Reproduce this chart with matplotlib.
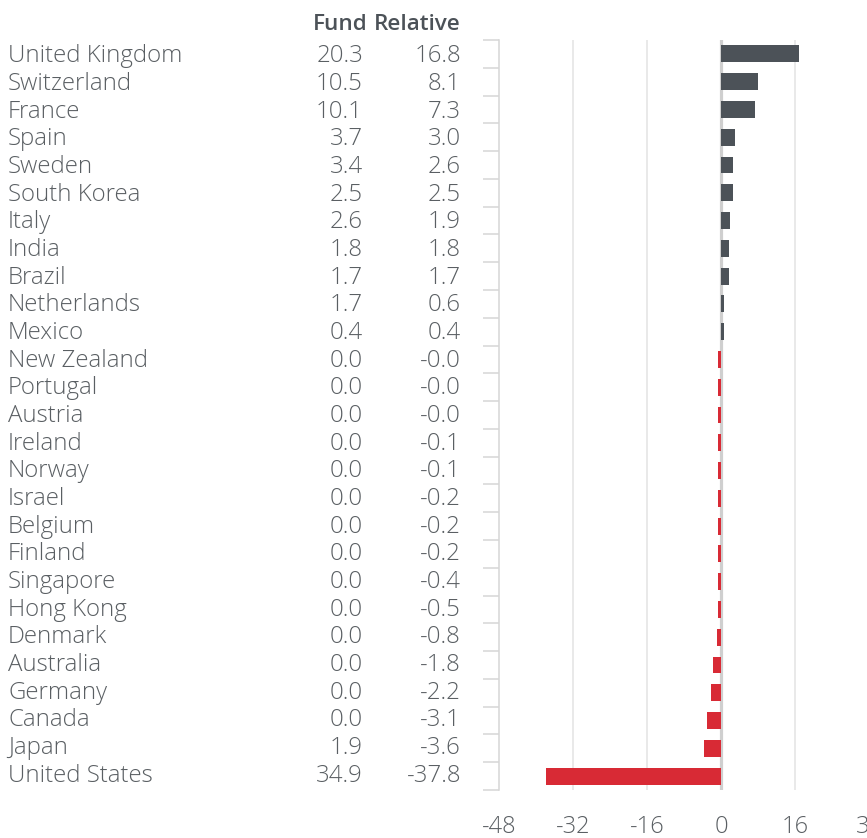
import matplotlib
matplotlib.use("Agg")
import matplotlib.pyplot as plt
import matplotlib.transforms as mtransforms
import numpy as np

countries = ["United Kingdom", "Switzerland", "France", "Spain", "Sweden", "South Korea",
             "Italy", "India", "Brazil", "Netherlands", "Mexico", "New Zealand", "Portugal",
             "Austria", "Ireland", "Norway", "Israel", "Belgium", "Finland", "Singapore",
             "Hong Kong", "Denmark", "Australia", "Germany", "Canada", "Japan", "United States"]
fund = [20.3, 10.5, 10.1, 3.7, 3.4, 2.5, 2.6, 1.8, 1.7, 1.7, 0.4, 0.0, 0.0,
        0.0, 0.0, 0.0, 0.0, 0.0, 0.0, 0.0, 0.0, 0.0, 0.0, 0.0, 0.0, 1.9, 34.9]
relative = [16.8, 8.1, 7.3, 3.0, 2.6, 2.5, 1.9, 1.8, 1.7, 0.6, 0.4, -0.02, -0.03,
            -0.04, -0.1, -0.1, -0.2, -0.2, -0.2, -0.4, -0.5, -0.8, -1.8, -2.2, -3.1, -3.6, -37.8]
xticks = [-48, -32, -16, 0, 16, 32]

FONT = "Open Sans"
TXT = "#5a5f63"
DARK = "#4c5258"
RED = "#d82a35"

fig = plt.figure(figsize=(8.67, 8.38), dpi=100)
ax = fig.add_axes([0.5755, 0.0573, 0.4268, 0.895])

n = len(countries)
y = np.arange(n)
rel = np.array(relative)
disp = np.sign(rel) * np.maximum(np.abs(rel), 0.6)
colors = [DARK if v > 0 else RED for v in rel]
ax.barh(y, disp, height=0.61, color=colors, zorder=3)

ax.set_xlim(-48, 32)
ax.set_ylim(n - 0.5, -0.5)

for xv in xticks[1:]:
    if xv == 0:
        ax.axvline(0, color="#cfcfcf", lw=2.3, zorder=2)
    else:
        ax.axvline(xv, color="#e3e3e3", lw=1.1, zorder=1)

for s in ["top", "right", "bottom"]:
    ax.spines[s].set_visible(False)
ax.spines["left"].set_color("#d6d6d6")
ax.spines["left"].set_linewidth(1.1)

ax.set_yticks(y)
ax.set_yticklabels([])
ax.tick_params(axis="y", which="major", length=0)
ax.set_yticks(np.arange(-0.5, n, 1.0), minor=True)
ax.tick_params(axis="y", which="minor", length=11.5, width=1.1, color="#d6d6d6")

ax.set_xticks(xticks)
ax.set_xticklabels([str(v) for v in xticks], fontfamily=FONT, fontsize=17, color=TXT, fontweight="light")
ax.tick_params(axis="x", length=0, pad=18)

trans = mtransforms.blended_transform_factory(fig.transFigure, ax.transData)
FS = 17.3
for i, (c, f, r) in enumerate(zip(countries, fund, relative)):
    yb = i + 0.31 - 0.004 * i
    ax.text(8 / 867, yb, c, transform=trans, ha="left", va="baseline",
            fontfamily=FONT, fontsize=FS, color=TXT, fontweight="light", clip_on=False)
    ax.text(363 / 867, yb, f"{f:.1f}", transform=trans, ha="right", va="baseline",
            fontfamily=FONT, fontsize=FS, color=TXT, fontweight="light", clip_on=False)
    ax.text(461 / 867, yb, f"{r:.1f}", transform=trans, ha="right", va="baseline",
            fontfamily=FONT, fontsize=FS, color=TXT, fontweight="light", clip_on=False)

fig.text(340 / 867, 1 - 30 / 838, "Fund", ha="center", va="baseline",
         fontfamily=FONT, fontsize=16.2, color=DARK, fontweight="semibold")
fig.text(461 / 867, 1 - 30 / 838, "Relative", ha="right", va="baseline",
         fontfamily=FONT, fontsize=16.2, color=DARK, fontweight="semibold")

fig.savefig("out.png", dpi=100)
